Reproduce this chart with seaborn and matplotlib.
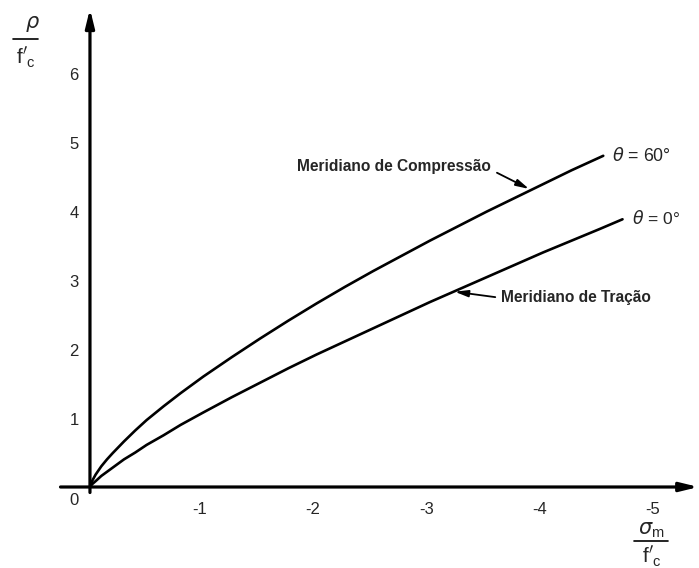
import pandas as pd
import matplotlib
matplotlib.use("Agg")
import matplotlib.pyplot as plt
from matplotlib.lines import Line2D
import seaborn as sns

# meridianos (sigma_m/f'c, rho/f'c)
sigma_comp = [0, -0.02, -0.05, -0.1, -0.15, -0.2, -0.3, -0.4, -0.5, -0.65, -0.8, -1.0, -1.25,
              -1.5, -1.75, -2.0, -2.25, -2.5, -2.75, -3.0, -3.25, -3.5, -3.75, -4.0, -4.25, -4.53]
rho_comp = [0, 0.09, 0.18, 0.30, 0.40, 0.49, 0.66, 0.82, 0.97, 1.17, 1.36, 1.60, 1.88,
            2.15, 2.41, 2.66, 2.90, 3.13, 3.35, 3.57, 3.78, 3.99, 4.19, 4.39, 4.59, 4.80]

sigma_trac = [0, -0.02, -0.05, -0.1, -0.15, -0.2, -0.3, -0.4, -0.5, -0.65, -0.8, -1.0, -1.25,
              -1.5, -1.75, -2.0, -2.25, -2.5, -2.75, -3.0, -3.25, -3.5, -3.75, -4.0, -4.25,
              -4.5, -4.70]
rho_trac = [0, 0.042, 0.085, 0.16, 0.22, 0.28, 0.40, 0.50, 0.61, 0.75, 0.90, 1.08, 1.30,
            1.51, 1.72, 1.92, 2.11, 2.30, 2.49, 2.68, 2.86, 3.04, 3.22, 3.40, 3.57,
            3.74, 3.88]

x_ticks = [-1, -2, -3, -4, -5]
x_tick_labels = ['-1', '-2', '-3', '-4', '-5']
y_ticks = [0, 1, 2, 3, 4, 5, 6]
y_tick_labels = ['0', '1', '2', '3', '4', '5', '6']

df = pd.concat([
    pd.DataFrame({'sigma': sigma_comp, 'rho': rho_comp, 'curva': 'compressao'}),
    pd.DataFrame({'sigma': sigma_trac, 'rho': rho_trac, 'curva': 'tracao'}),
])

sns.set_theme(style='white')
plt.rcParams['font.family'] = ['Liberation Sans', 'DejaVu Sans']
plt.rcParams['mathtext.fontset'] = 'dejavusans'

W, H = 699, 568
fig = plt.figure(figsize=(W / 100, H / 100), dpi=100)
ax = fig.add_axes([0, 0, 1, 1])
ax.set_xlim(0.794, -5.375)
ax.set_ylim(-1.174, 7.058)
ax.axis('off')

sns.lineplot(data=df, x='sigma', y='rho', hue='curva', palette=['black', 'black'],
             sort=False, estimator=None, legend=False, linewidth=1.9, ax=ax)

# eixos com setas
ax_arrow = dict(arrowstyle='-|>,head_length=0.9,head_width=0.22', lw=2.3, color='black',
                shrinkA=0, shrinkB=0)
ax.annotate('', xy=(-5.37, 0), xytext=(0.26, 0), arrowprops=ax_arrow)
ax.annotate('', xy=(0, 6.93), xytext=(0, -0.08), arrowprops=ax_arrow)

# rótulos dos eixos (ticks)
for v, lab in zip(x_ticks, x_tick_labels):
    ax.text(v + 0.03, -0.33, lab, ha='center', va='center', fontsize=12)
for v, lab in zip(y_ticks, y_tick_labels):
    yy = -0.2 if v == 0 else v - 0.03
    ax.text(0.10, yy, lab, ha='right', va='center', fontsize=12)

# nomes das curvas
small_arrow = dict(arrowstyle='-|>,head_length=0.7,head_width=0.18', lw=1.3, color='black',
                   shrinkA=2, shrinkB=0)
ax.annotate('Meridiano de Compressão', xy=(-3.875, 4.32), xytext=(-1.83, 4.64),
            ha='left', va='center', fontsize=11.2, fontweight='bold',
            arrowprops=dict(small_arrow, relpos=(1.0, 0.3)))
ax.annotate('Meridiano de Tração', xy=(-3.22, 2.83), xytext=(-3.63, 2.74),
            ha='left', va='center', fontsize=11.2, fontweight='bold',
            arrowprops=dict(small_arrow, relpos=(0.0, 0.5)))

ax.text(-4.61, 4.80, r'$\theta$ = 60°', ha='left', va='center', fontsize=12.8)
ax.text(-4.78, 3.90, r'$\theta$ = 0°', ha='left', va='center', fontsize=12.5)

# frações dos eixos
def fig_text(x, y, s, **kw):
    fig.text(x / W, 1 - y / H, s, ha='center', va='center', **kw)

fig_text(33, 24, r'$\rho$', fontsize=15)
fig.add_artist(Line2D([13 / W, 38 / W], [1 - 39 / H, 1 - 39 / H], color='black', lw=1.2))
fig_text(26, 57, r"$\mathregular{f}'_\mathregular{c}$", fontsize=15)

fig_text(651, 530, r'$\sigma_\mathregular{m}$', fontsize=15)
fig.add_artist(Line2D([634 / W, 668 / W], [1 - 541 / H, 1 - 541 / H], color='black', lw=1.2))
fig_text(652, 556, r"$\mathregular{f}'_\mathregular{c}$", fontsize=15)

fig.savefig('out.png', dpi=100, facecolor='white')
